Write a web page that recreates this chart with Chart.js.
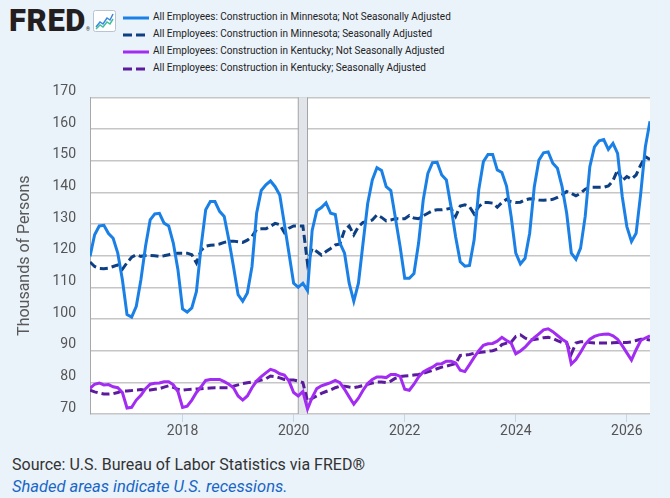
<!DOCTYPE html>
<html>
<head>
<meta charset="utf-8">
<script src="https://cdn.jsdelivr.net/npm/chart.js@4.4.1/dist/chart.umd.min.js"></script>
<style>
  html, body { margin: 0; padding: 0; }
  body { width: 670px; height: 498px; background: #eaf2fa; position: relative; overflow: hidden; font-family: Roboto, "Noto Sans", sans-serif; }
  #logo { position: absolute; left: 9px; top: 3px; font-family: Roboto, sans-serif; font-weight: 900; font-size: 31px; line-height: 36px; color: #231f20; letter-spacing: 0.6px; }
  #logo sup { font-size: 5px; font-weight: 400; vertical-align: 0; letter-spacing: 0; }
  #icon { position: absolute; left: 93px; top: 10px; }
  #legend { position: absolute; left: 123px; top: 9px; font-size: 10px; color: #222; }
  .item { height: 17px; line-height: 15px; position: relative; padding-left: 30px; white-space: nowrap; }
  .item svg { position: absolute; left: 0; top: 6px; }
  #wrap { position: absolute; left: 0; top: 75px; width: 670px; height: 370px; }
  #source { position: absolute; left: 12px; top: 455px; font-size: 16px; color: #333; }
  #shade { position: absolute; left: 12px; top: 477px; font-size: 16.5px; color: #1866c6; font-style: italic; }
</style>
</head>
<body>
<div id="logo">FRED<sup>&reg;</sup></div>
<svg id="icon" width="23" height="22" viewBox="0 0 23 22">
  <rect x="0.5" y="0.5" width="22" height="21" rx="2" fill="#ffffff" stroke="#b8c4d0"/>
  <polyline points="3,17 7,12 10,14 14,8 17,10 20,4" fill="none" stroke="#3a86e0" stroke-width="1.5"/>
  <polyline points="3,19 7,15 10,17 14,12 17,14 20,9" fill="none" stroke="#3fbf9a" stroke-width="1.5"/>
</svg>
<div id="legend"></div>
<div id="wrap"><canvas id="chart"></canvas></div>
<div id="source">Source: U.S. Bureau of Labor Statistics via FRED&reg;</div>
<div id="shade">Shaded areas indicate U.S. recessions.</div>
<script>
// monthly series, first observation May 2016
const startYear = 2016;
const startMonth = 5;

const seriesNames = [
    'All Employees: Construction in Minnesota; Not Seasonally Adjusted',
    'All Employees: Construction in Minnesota; Seasonally Adjusted',
    'All Employees: Construction in Kentucky; Not Seasonally Adjusted',
    'All Employees: Construction in Kentucky; Seasonally Adjusted'
];

const mnNsa = [
    119.8, 126.6, 129.4, 129.6, 127.0, 125.5, 120.8, 112.4, 101.4, 100.6, 104.0, 112.4,
    123.0, 131.3, 133.2, 133.4, 130.3, 129.4, 124.0, 115.6, 103.2, 102.2, 103.5, 108.7,
    122.9, 134.5, 137.1, 137.1, 134.0, 132.4, 125.0, 116.6, 107.7, 105.6, 108.2, 116.6,
    133.4, 140.6, 142.4, 143.6, 141.8, 139.2, 130.0, 120.7, 111.3, 110.0, 111.3, 109.0,
    128.0, 134.2, 135.2, 136.7, 133.4, 133.0, 124.0, 120.8, 111.3, 105.6, 111.3, 124.0,
    136.5, 143.9, 147.8, 146.9, 141.8, 140.6, 131.8, 122.9, 112.9, 112.9, 114.4, 124.0,
    137.6, 146.0, 149.4, 149.5, 145.5, 143.9, 135.5, 126.0, 118.1, 116.7, 116.9, 125.0,
    140.8, 149.7, 152.0, 152.0, 147.1, 146.3, 142.0, 132.4, 120.8, 117.4, 119.2, 127.1,
    141.8, 150.2, 152.5, 152.8, 149.2, 147.6, 141.8, 133.4, 120.8, 118.9, 122.4, 132.4,
    148.1, 154.4, 156.3, 156.7, 153.6, 155.5, 152.3, 138.7, 129.2, 124.5, 127.1, 139.7,
    154.4, 162.5
];

const mnSa = [
    118.0, 116.6, 116.0, 115.9, 116.1, 116.6, 117.1, 115.7, 117.8, 119.5, 120.3, 119.8,
    120.1, 120.1, 120.0, 119.8, 120.0, 120.3, 120.7, 120.8, 120.8, 120.8, 120.3, 117.7,
    121.7, 123.0, 123.3, 123.4, 123.7, 124.2, 124.5, 124.6, 124.4, 124.2, 124.9, 126.1,
    128.3, 128.5, 128.5, 129.3, 130.2, 129.8, 127.3, 128.7, 129.4, 129.4, 129.4, 117.6,
    122.3, 121.3, 120.2, 121.3, 122.3, 123.4, 123.7, 128.1, 129.4, 126.6, 129.2, 130.5,
    130.8, 131.3, 132.9, 132.1, 131.0, 131.3, 131.7, 131.6, 131.7, 132.7, 131.9, 131.7,
    132.6, 133.4, 134.2, 134.5, 134.5, 134.7, 135.0, 132.4, 135.7, 136.1, 135.5, 133.2,
    135.5, 136.8, 136.8, 136.6, 135.3, 136.8, 137.8, 137.0, 136.8, 136.9, 137.6, 138.0,
    137.9, 137.6, 137.5, 137.6, 137.8, 138.4, 139.2, 140.3, 139.7, 138.9, 139.7, 141.0,
    141.6, 141.6, 141.6, 141.6, 142.0, 143.7, 147.1, 143.7, 145.0, 144.2, 145.5, 148.7,
    151.3, 150.4
];

const kyNsa = [
    78.1, 79.4, 79.8, 79.2, 79.3, 78.6, 78.3, 76.8, 71.9, 72.1, 74.4, 75.9,
    78.0, 79.4, 79.7, 79.8, 80.2, 80.2, 79.2, 77.1, 72.1, 72.5, 74.4, 76.8,
    78.6, 80.6, 80.9, 80.9, 80.9, 80.2, 79.4, 78.3, 75.7, 74.4, 75.7, 78.3,
    80.4, 81.8, 83.0, 84.1, 83.6, 82.7, 82.3, 80.4, 76.8, 75.7, 77.1, 71.6,
    75.2, 78.0, 78.9, 79.4, 79.9, 80.6, 79.9, 77.8, 75.4, 73.1, 75.0, 77.5,
    79.6, 80.9, 81.7, 81.7, 81.5, 82.5, 82.5, 81.9, 77.8, 77.5, 79.4, 81.7,
    83.3, 84.1, 84.8, 85.8, 85.9, 86.7, 86.7, 86.1, 83.8, 83.4, 85.6, 87.9,
    90.0, 91.7, 92.2, 92.3, 93.0, 94.2, 93.2, 92.4, 89.0, 89.9, 91.1, 92.7,
    94.1, 95.3, 96.6, 96.9, 96.0, 94.8, 93.6, 92.7, 85.8, 87.2, 89.5, 92.0,
    93.6, 94.5, 95.0, 95.2, 95.3, 94.7, 93.6, 91.6, 89.3, 87.0, 90.3, 93.2,
    94.0, 94.7
];

const kySa = [
    77.5, 77.0, 76.6, 76.3, 76.3, 76.4, 76.8, 77.3, 77.3, 77.4, 77.6, 77.7,
    77.5, 77.6, 77.8, 78.0, 78.5, 78.9, 78.4, 77.8, 77.5, 77.7, 77.8, 77.9,
    78.0, 78.1, 78.2, 78.3, 78.3, 78.3, 78.3, 78.8, 79.2, 79.6, 79.9, 80.1,
    80.3, 80.7, 81.1, 82.0, 81.8, 81.4, 80.9, 80.7, 80.7, 80.4, 79.9, 74.0,
    74.9, 75.7, 76.5, 77.1, 77.6, 78.3, 78.8, 78.8, 78.5, 78.3, 78.6, 79.0,
    79.4, 79.8, 80.1, 80.1, 79.9, 80.4, 81.3, 81.8, 82.0, 82.1, 82.3, 82.5,
    82.9, 83.3, 83.8, 84.3, 84.8, 85.1, 85.5, 85.9, 88.5, 88.6, 88.8, 89.2,
    89.4, 89.6, 89.8, 90.0, 90.5, 91.9, 92.4, 92.7, 94.5, 95.0, 94.0, 93.4,
    93.5, 93.8, 94.1, 94.2, 93.9, 93.2, 92.6, 92.4, 89.0, 92.4, 92.8, 92.9,
    92.6, 92.4, 92.4, 92.4, 92.4, 92.5, 92.6, 92.6, 92.6, 92.8, 93.2, 93.6,
    93.6, 93.4
];

const xTickYears = [2018, 2020, 2022, 2024, 2026];
const yMin = 70;
const yMax = 170;
const yStep = 10;

// recession: Feb 2020 - Apr 2020
const recessionStart = [2020 + 1 / 12];
const recessionEnd = [2020 + 3 / 12];

const colors = ['#1a80e6', '#0d3f82', '#a22cf2', '#5b1b9c'];
const dashed = [false, true, false, true];

function monthX(i) {
    return startYear + (startMonth - 1 + i) / 12;
}

function toPoints(values) {
    return values.map((v, i) => ({ x: monthX(i), y: v }));
}

// html legend
const legendEl = document.getElementById('legend');
seriesNames.forEach((name, i) => {
    const row = document.createElement('div');
    row.className = 'item';
    const dash = dashed[i] ? ' stroke-dasharray="9 4"' : '';
    row.innerHTML = '<svg width="26" height="6"><line x1="0" y1="3" x2="26" y2="3" stroke="' + colors[i] +
        '" stroke-width="3"' + dash + '/></svg>' + name;
    legendEl.appendChild(row);
});

const plotBackground = {
    id: 'plotBackground',
    beforeDraw(chart) {
        const { ctx, chartArea } = chart;
        ctx.save();
        ctx.fillStyle = '#ffffff';
        ctx.fillRect(chartArea.left, chartArea.top, chartArea.right - chartArea.left, chartArea.bottom - chartArea.top);
        ctx.restore();
    }
};

const recessionShading = {
    id: 'recessionShading',
    beforeDatasetsDraw(chart) {
        const { ctx, chartArea, scales } = chart;
        ctx.save();
        recessionStart.forEach((s, k) => {
            const x0 = scales.x.getPixelForValue(s);
            const x1 = scales.x.getPixelForValue(recessionEnd[k]);
            ctx.fillStyle = '#e1e5ea';
            ctx.fillRect(x0, chartArea.top, x1 - x0, chartArea.bottom - chartArea.top);
            ctx.strokeStyle = '#a3a3a3';
            ctx.lineWidth = 1;
            ctx.beginPath();
            ctx.moveTo(x0, chartArea.top);
            ctx.lineTo(x0, chartArea.bottom);
            ctx.moveTo(x1, chartArea.top);
            ctx.lineTo(x1, chartArea.bottom);
            ctx.stroke();
        });
        ctx.restore();
    }
};

const allSeries = [mnNsa, mnSa, kyNsa, kySa];

new Chart(document.getElementById('chart'), {
    type: 'line',
    data: {
        datasets: allSeries.map((values, i) => ({
            label: seriesNames[i],
            data: toPoints(values),
            borderColor: colors[i],
            backgroundColor: colors[i],
            borderWidth: 3,
            borderDash: dashed[i] ? [8, 4] : [],
            pointRadius: 0,
            tension: 0,
            fill: false
        }))
    },
    options: {
        responsive: true,
        maintainAspectRatio: false,
        animation: false,
        layout: { padding: { top: 12, right: 20, left: 0, bottom: 0 } },
        plugins: {
            legend: { display: false },
            tooltip: { enabled: false }
        },
        scales: {
            x: {
                type: 'linear',
                min: monthX(0),
                max: monthX(mnNsa.length - 1),
                afterBuildTicks(scale) {
                    scale.ticks = xTickYears.map(v => ({ value: v }));
                },
                afterFit(scale) {
                    scale.height = 31;
                },
                grid: {
                    drawOnChartArea: false,
                    drawTicks: true,
                    tickLength: 8,
                    color: '#c9d5e3'
                },
                border: { display: false },
                ticks: {
                    padding: 1,
                    color: '#555555',
                    font: { family: 'Roboto', size: 14 },
                    maxRotation: 0,
                    callback: v => String(v)
                }
            },
            y: {
                min: yMin,
                max: yMax,
                afterFit(scale) {
                    scale.width = 90;
                },
                grid: {
                    color: '#c6c6c6',
                    lineWidth: 1.6,
                    drawTicks: false
                },
                border: { display: true, color: '#a8a8a8', width: 1 },
                ticks: {
                    stepSize: yStep,
                    padding: 14,
                    labelOffset: -6,
                    color: '#555555',
                    font: { family: 'Roboto', size: 14 }
                },
                title: {
                    display: true,
                    text: 'Thousands of Persons',
                    color: '#595959',
                    font: { family: 'Roboto', size: 16 },
                    padding: { top: 15, bottom: 0 }
                }
            }
        }
    },
    plugins: [plotBackground, recessionShading]
});
</script>
</body>
</html>
